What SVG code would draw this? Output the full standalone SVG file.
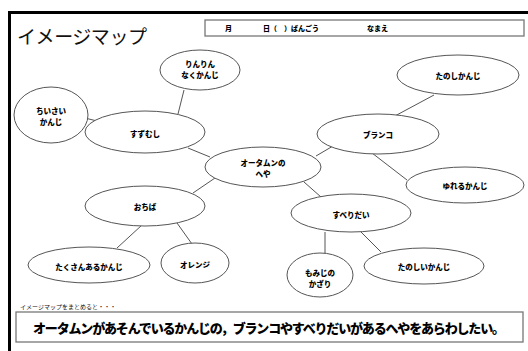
<svg xmlns="http://www.w3.org/2000/svg" width="528" height="351" viewBox="0 0 528 351">
<style>
.n ellipse{fill:#fff;stroke:#555;stroke-width:1}
.n text{font-family:"Noto Sans CJK JP",sans-serif;font-weight:900;font-size:7.5px;fill:#000;text-anchor:middle;dominant-baseline:central}
#edges line{stroke:#555;stroke-width:1}
.hd{font-family:"Noto Sans CJK JP",sans-serif;font-weight:900;font-size:7px;fill:#000}
</style>
<rect width="528" height="351" fill="#fff"/>
<rect x="9.5" y="12.5" width="530" height="350" fill="none" stroke="#000" stroke-width="3"/>
<text x="17" y="44" font-family="Noto Sans CJK JP,sans-serif" font-size="19" fill="#111" textLength="130">イメージマップ</text>
<g id="header">
<rect x="205" y="20" width="319" height="16" fill="#fff" stroke="#777" stroke-width="1.3"/>
<text class="hd" x="225" y="31">月</text>
<text class="hd" x="263" y="31">日（　）ばんごう</text>
<text class="hd" x="367" y="31">なまえ</text>
</g>
<g id="edges">
<line x1="184" y1="90" x2="178" y2="114"/>
<line x1="85" y1="118" x2="97" y2="121"/>
<line x1="188" y1="148" x2="210" y2="157"/>
<line x1="215" y1="178" x2="193" y2="193"/>
<line x1="316" y1="156" x2="333" y2="146"/>
<line x1="434" y1="95" x2="393" y2="117"/>
<line x1="372" y1="153" x2="407" y2="180"/>
<line x1="304" y1="182" x2="321" y2="197"/>
<line x1="325" y1="232" x2="325" y2="254"/>
<line x1="361" y1="232" x2="381" y2="252"/>
<line x1="142" y1="225" x2="117" y2="248"/>
<line x1="177" y1="223" x2="192" y2="244"/>
</g>
<g id="n-rinrin" class="n"><ellipse cx="200" cy="70" rx="40" ry="20"/><text x="200" y="63">りんりん</text><text x="200" y="74">なくかんじ</text></g>
<g id="n-chiisai" class="n"><ellipse cx="51" cy="115" rx="37" ry="28"/><text x="51" y="110">ちいさい</text><text x="51" y="121">かんじ</text></g>
<g id="n-suzumushi" class="n"><ellipse cx="145" cy="132" rx="60" ry="21"/><text x="145" y="133">すずむし</text></g>
<g id="n-center" class="n"><ellipse cx="263" cy="167" rx="58" ry="20"/><text x="263" y="162">オータムンの</text><text x="263" y="173">へや</text></g>
<g id="n-buranko" class="n"><ellipse cx="378" cy="134" rx="61" ry="20"/><text x="378" y="134">ブランコ</text></g>
<g id="n-tanoshi" class="n"><ellipse cx="458" cy="75" rx="61" ry="20"/><text x="458" y="75">たのしかんじ</text></g>
<g id="n-yureru" class="n"><ellipse cx="465" cy="185" rx="59" ry="18"/><text x="465" y="185">ゆれるかんじ</text></g>
<g id="n-suberidai" class="n"><ellipse cx="351" cy="213" rx="60" ry="19"/><text x="351" y="214">すべりだい</text></g>
<g id="n-ochiba" class="n"><ellipse cx="145" cy="206" rx="60" ry="20"/><text x="145" y="206">おちば</text></g>
<g id="n-takusan" class="n"><ellipse cx="89" cy="265" rx="61" ry="18"/><text x="89" y="266">たくさんあるかんじ</text></g>
<g id="n-orenji" class="n"><ellipse cx="195" cy="263" rx="34" ry="20"/><text x="195" y="264">オレンジ</text></g>
<g id="n-momiji" class="n"><ellipse cx="320" cy="275" rx="33" ry="22"/><text x="320" y="272">もみじの</text><text x="320" y="283">かざり</text></g>
<g id="n-tanoshii" class="n"><ellipse cx="424" cy="266" rx="60" ry="18"/><text x="424" y="266">たのしいかんじ</text></g>
<g id="summary">
<text x="20" y="309" font-family="Noto Sans CJK JP,sans-serif" font-size="6" fill="#111">イメージマップをまとめると・・・</text>
<rect x="16" y="312" width="507" height="30" fill="#fff" stroke="#777" stroke-width="1.3"/>
<text x="33" y="333" font-family="Noto Sans CJK JP,sans-serif" font-weight="900" font-size="13" fill="#000" textLength="472">オータムンがあそんでいるかんじの，ブランコやすべりだいがあるへやをあらわしたい。</text>
</g>
</svg>
